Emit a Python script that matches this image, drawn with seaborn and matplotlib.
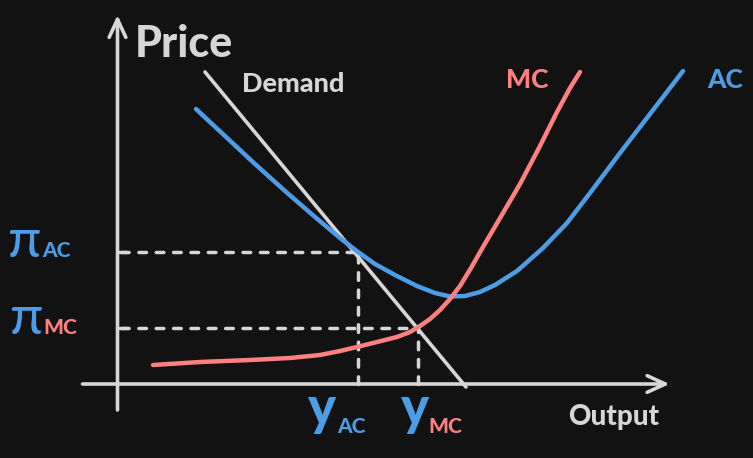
import matplotlib
matplotlib.use("Agg")
import matplotlib.pyplot as plt
import pandas as pd
import seaborn as sns

ac_q = [78.5, 107.5, 137.5, 167.5, 197.5, 222.5, 240.5, 257.5, 277.5, 299.5, 317.5, 332.5,
        347.5, 362.5, 377.5, 399.5, 425.5, 449.5, 472.5, 502.5, 532.5, 565.5]
ac_p = [275, 248, 220, 193, 167, 146, 132, 120, 109, 98, 91, 87.5,
        88, 92, 99, 113, 136, 161, 191, 231, 270, 313]
mc_q = [35.5, 82.5, 132.5, 172.5, 202.5, 222.5, 239.5, 259.5, 279.5, 292.5, 302.5, 312.5,
        322.5, 332.5, 342.5, 353.5, 365.5, 385.5, 402.5, 422.5, 439.5, 452.5, 462.5]
mc_p = [19, 22, 24, 26, 29, 33, 37, 42, 47, 52, 58, 65,
        74, 85, 98, 116, 137, 171, 200, 238, 272, 296, 312]
demand_q = [87.5, 348.5]
demand_p = [312, -3]

# where the curves cross: y_AC / pi_AC and y_MC / pi_MC
y_ac, pi_ac = 240.5, 132
y_mc, pi_mc = 301, 56

# axis extents
x_axis = (-35, 552)
y_axis = (-26, 369)

BG = "#121212"
GREY = "#d6d6d6"
BLUE = "#4d9de6"
RED = "#ff8080"

ac = pd.DataFrame({"q": ac_q, "p": ac_p})
mc = pd.DataFrame({"q": mc_q, "p": mc_p})
demand = pd.DataFrame({"q": demand_q, "p": demand_p})

sns.set_theme(style="white", rc={"figure.facecolor": BG, "axes.facecolor": BG})
plt.rcParams["font.family"] = ["Lato", "DejaVu Sans"]

fig = plt.figure(figsize=(7.53, 4.58), dpi=100)
ax = fig.add_axes([0, 0, 1, 1])

line_kw = dict(solid_capstyle="round", solid_joinstyle="round")
dash_kw = dict(color=GREY, lw=2.5, ls=(0, (2.2, 2.8)), dash_capstyle="round")

# guide lines
ax.plot([3, y_ac], [pi_ac, pi_ac], **dash_kw)
ax.plot([y_ac, y_ac], [0, pi_ac], **dash_kw)
ax.plot([3, y_mc], [pi_mc, pi_mc], **dash_kw)
ax.plot([y_mc, y_mc], [0, pi_mc], **dash_kw)
for p in (pi_ac, pi_mc):
    ax.plot([0, 9], [p, p], color=GREY, lw=2.4, solid_capstyle="round")

# axes with arrow heads
arrow = dict(arrowstyle="->,head_length=1.3,head_width=0.6", color=GREY, lw=2.6,
             shrinkA=0, shrinkB=0, mutation_scale=10, capstyle="round", joinstyle="round")
ax.annotate("", xy=(x_axis[1], 0), xytext=(x_axis[0], 0), arrowprops=arrow)
ax.annotate("", xy=(0, y_axis[1]), xytext=(0, y_axis[0]), arrowprops=arrow)

sns.lineplot(data=demand, x="q", y="p", sort=False, color=GREY, lw=2.6, ax=ax, **line_kw)
sns.lineplot(data=ac, x="q", y="p", sort=False, color=BLUE, lw=3.2, ax=ax, **line_kw)
sns.lineplot(data=mc, x="q", y="p", sort=False, color=RED, lw=3.2, ax=ax, **line_kw)
ax.set_xlim(-117.5, 635.5)
ax.set_ylim(-74, 384)
ax.axis("off")

# labels
ax.text(17.5, 327, "Price", color=GREY, fontsize=31, fontweight="black", va="baseline")
ax.text(124.5, 292, "Demand", color=GREY, fontsize=19.5, fontweight="black", va="baseline")
ax.text(388.5, 296, "MC", color=RED, fontsize=19, fontweight="black", va="baseline")
ax.text(590, 296, "AC", color=BLUE, fontsize=19, fontweight="black", va="baseline")
ax.text(451, -41, "Output", color=GREY, fontsize=20, fontweight="black", va="baseline")

ax.text(-110, 127, "π", color=BLUE, fontsize=39, va="baseline")
ax.text(-75, 127, "AC", color=BLUE, fontsize=15, fontweight="black", va="baseline")
ax.text(-108, 50, "π", color=BLUE, fontsize=39, va="baseline")
ax.text(-74, 50, "MC", color=RED, fontsize=15, fontweight="black", va="baseline")

ax.text(y_ac - 50, -41, "y", color=BLUE, fontsize=38, fontweight="black", va="baseline")
ax.text(y_ac - 21, -49, "AC", color=BLUE, fontsize=15, fontweight="black", va="baseline")
ax.text(y_mc - 17, -41, "y", color=BLUE, fontsize=38, fontweight="black", va="baseline")
ax.text(y_mc + 10, -49, "MC", color=RED, fontsize=15, fontweight="black", va="baseline")

fig.savefig("out.png", dpi=100, facecolor=BG)
